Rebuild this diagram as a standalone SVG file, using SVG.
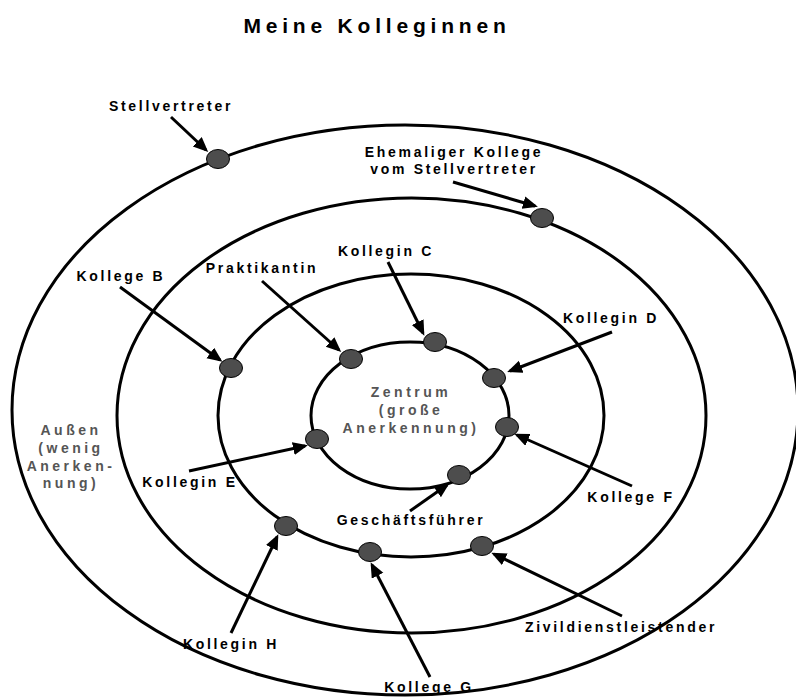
<svg xmlns="http://www.w3.org/2000/svg" width="796" height="697" viewBox="0 0 796 697">
<style>
.ring{fill:none;stroke:#000;stroke-width:3}
.dot{fill:#4d4d4d;stroke:#000;stroke-width:1}
.lbl{font-family:"Liberation Sans",Arial,sans-serif;font-weight:bold;font-size:14px;letter-spacing:2.7px;fill:#000;text-anchor:middle}
.zone{font-family:"Liberation Sans",Arial,sans-serif;font-weight:bold;font-size:14px;letter-spacing:3.5px;fill:#555;text-anchor:middle}
.title{font-family:"Liberation Sans",Arial,sans-serif;font-weight:bold;font-size:21px;letter-spacing:4.8px;fill:#000;text-anchor:middle}
.arr{stroke:#000;stroke-width:3;fill:none;marker-end:url(#ah)}
</style>
<defs>
<marker id="ah" markerUnits="userSpaceOnUse" markerWidth="16" markerHeight="14" refX="12" refY="6.5" orient="auto">
<path d="M0,0 L15,6.5 L0,13 z" fill="#000"/>
</marker>
</defs>
<rect width="796" height="697" fill="#fff"/>
<text class="title" x="377" y="33">Meine Kolleginnen</text>
<g id="rings">
<ellipse class="ring" cx="405" cy="410" rx="393" ry="285"/>
<ellipse class="ring" cx="411.5" cy="415.5" rx="294.5" ry="217.5"/>
<ellipse class="ring" cx="411" cy="415.5" rx="193" ry="141.5"/>
<ellipse class="ring" cx="410" cy="415.5" rx="99" ry="73.5"/>
</g>
<g id="zone-center"><text class="zone" x="411" y="397">Zentrum</text><text class="zone" x="411" y="415">(große</text><text class="zone" x="411" y="433">Anerkennung)</text></g>
<g id="zone-outer"><text class="zone" x="71" y="435">Außen</text><text class="zone" x="71" y="453">(wenig</text><text class="zone" x="71" y="471">Anerken-</text><text class="zone" x="71" y="488">nung)</text></g>
<g id="connectors">
<line class="arr" x1="171" y1="117" x2="206" y2="150"/>
<line class="arr" x1="453" y1="182" x2="535" y2="206"/>
<line class="arr" x1="120" y1="287" x2="220" y2="360"/>
<line class="arr" x1="262" y1="281" x2="339" y2="350"/>
<line class="arr" x1="388" y1="262" x2="423" y2="333"/>
<line class="arr" x1="612" y1="332" x2="510" y2="371"/>
<line class="arr" x1="632" y1="486" x2="517" y2="435"/>
<line class="arr" x1="189" y1="471" x2="305" y2="446"/>
<line class="arr" x1="410" y1="511" x2="447" y2="485"/>
<line class="arr" x1="231" y1="633" x2="277" y2="537"/>
<line class="arr" x1="430" y1="677" x2="372" y2="565"/>
<line class="arr" x1="622" y1="616" x2="494" y2="554"/>
</g>
<g id="stellvertreter"><ellipse class="dot" cx="218" cy="159" rx="11.5" ry="9.5"/><text class="lbl" x="171" y="111">Stellvertreter</text></g>
<g id="ehemaliger"><ellipse class="dot" cx="542" cy="218" rx="11.5" ry="9.5"/><text class="lbl" x="454" y="157">Ehemaliger Kollege</text><text class="lbl" x="454" y="174">vom Stellvertreter</text></g>
<g id="kollege-b"><ellipse class="dot" cx="231" cy="368" rx="11.5" ry="9.5"/><text class="lbl" x="121" y="281">Kollege B</text></g>
<g id="praktikantin"><ellipse class="dot" cx="351" cy="359" rx="11.5" ry="9.5"/><text class="lbl" x="262" y="273">Praktikantin</text></g>
<g id="kollegin-c"><ellipse class="dot" cx="435" cy="342" rx="11.5" ry="9.5"/><text class="lbl" x="386" y="256">Kollegin C</text></g>
<g id="kollegin-d"><ellipse class="dot" cx="494" cy="378" rx="11.5" ry="9.5"/><text class="lbl" x="611" y="323">Kollegin D</text></g>
<g id="kollege-f"><ellipse class="dot" cx="507" cy="427" rx="11.5" ry="9.5"/><text class="lbl" x="631" y="502">Kollege F</text></g>
<g id="kollegin-e"><ellipse class="dot" cx="317" cy="439" rx="11.5" ry="9.5"/><text class="lbl" x="190" y="487">Kollegin E</text></g>
<g id="geschaeftsfuehrer"><ellipse class="dot" cx="459" cy="475" rx="11.5" ry="9.5"/><text class="lbl" x="411" y="525">Geschäftsführer</text></g>
<g id="kollegin-h"><ellipse class="dot" cx="286" cy="526" rx="11.5" ry="9.5"/><text class="lbl" x="231" y="649">Kollegin H</text></g>
<g id="kollege-g"><ellipse class="dot" cx="370" cy="552" rx="11.5" ry="9.5"/><text class="lbl" x="429" y="692">Kollege G</text></g>
<g id="zivildienstleistender"><ellipse class="dot" cx="482" cy="546" rx="11.5" ry="9.5"/><text class="lbl" x="621" y="632">Zivildienstleistender</text></g>
</svg>
